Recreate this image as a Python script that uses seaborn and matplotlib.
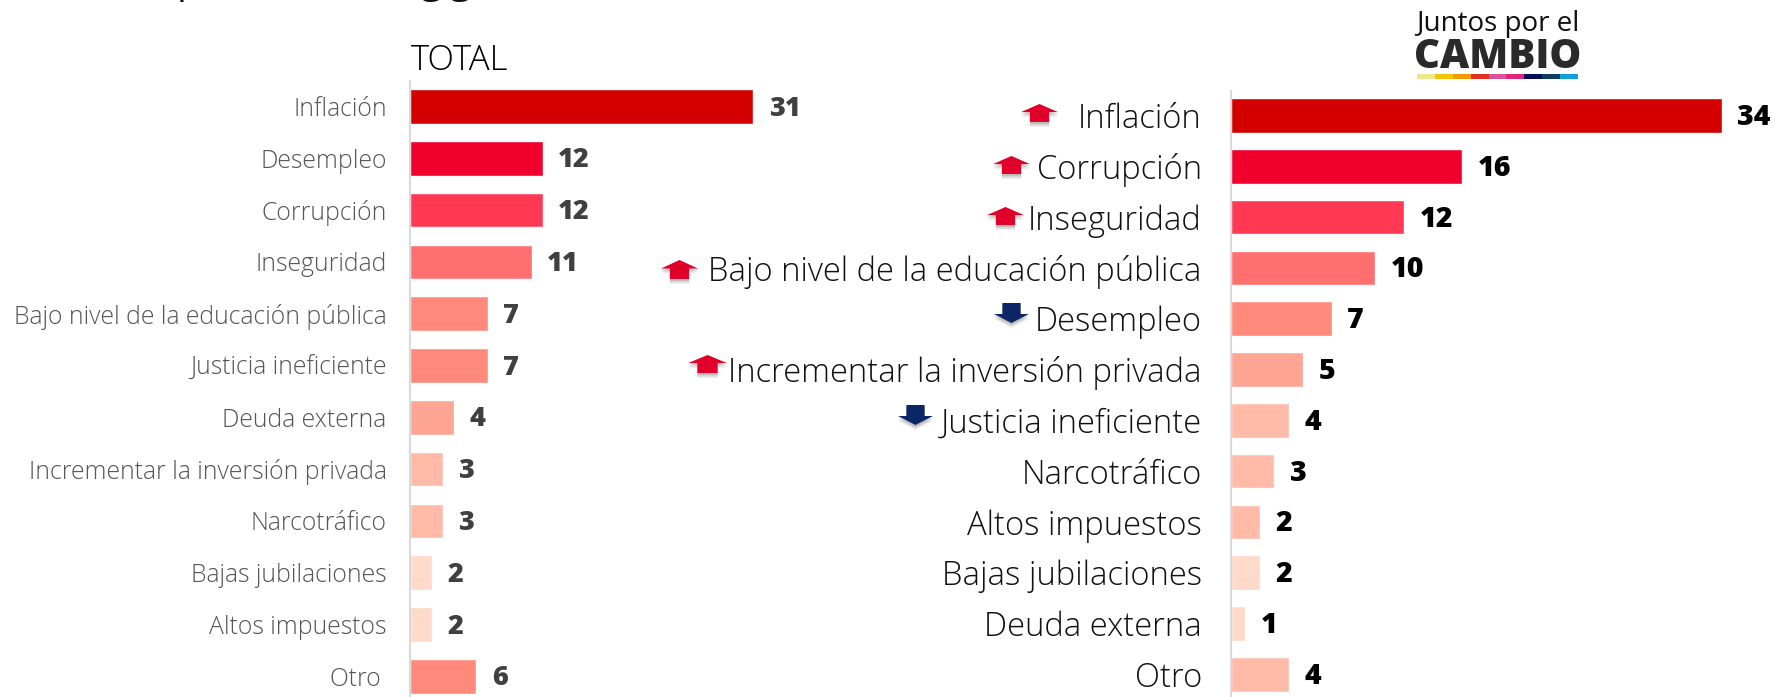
import pandas as pd
import matplotlib.pyplot as plt
from matplotlib.patches import Polygon, Rectangle
import seaborn as sns

total_cats = ["Inflación", "Desempleo", "Corrupción", "Inseguridad",
              "Bajo nivel de la educación pública", "Justicia ineficiente",
              "Deuda externa", "Incrementar la inversión privada",
              "Narcotráfico", "Bajas jubilaciones", "Altos impuestos", "Otro "]
total_vals = [31, 12, 12, 11, 7, 7, 4, 3, 3, 2, 2, 6]
total_cols = ["#d40000", "#f2002d", "#ff3853", "#ff6f6f", "#ff8a7c", "#ff8a7c",
              "#ffa593", "#ffbba8", "#ffbba8", "#ffd9c9", "#ffd9c9", "#ff8a7c"]

jxc_cats = ["Inflación", "Corrupción", "Inseguridad",
            "Bajo nivel de la educación pública", "Desempleo",
            "Incrementar la inversión privada", "Justicia ineficiente",
            "Narcotráfico", "Altos impuestos", "Bajas jubilaciones",
            "Deuda externa", "Otro"]
jxc_vals = [34, 16, 12, 10, 7, 5, 4, 3, 2, 2, 1, 4]
jxc_cols = ["#d40000", "#f2002d", "#ff3853", "#ff6f6f", "#ff8a7c", "#ffa593",
            "#ffbba8", "#ffbba8", "#ffbba8", "#ffd9c9", "#ffd9c9", "#ffbba8"]

W, H = 1775, 697

sns.set_theme(style="white")
plt.rcParams["font.family"] = ["Open Sans", "DejaVu Sans"]

fig = plt.figure(figsize=(W / 100, H / 100), dpi=100)


def panel(cats, vals, cols, x0, per_unit, top, first, pitch, label_size, label_col, pad, num_size, num_col):
    # axes placed in pixels, runs to the bottom edge of the image
    width = W - x0 if x0 > 1000 else 400
    ax = fig.add_axes([x0 / W, 0, width / W, (H - top) / H])
    df = pd.DataFrame({"cat": cats, "val": vals})
    sns.barplot(data=df, x="val", y="cat", hue="cat", palette=cols, order=cats,
                width=34.5 / pitch, saturation=1, legend=False, ax=ax)
    ax.set_xlim(0, width / per_unit)
    ax.set_ylim((H - first) / pitch, -(first - top) / pitch)
    ax.set_xlabel("")
    ax.set_ylabel("")
    ax.set_xticks([])
    ax.tick_params(axis="y", length=0, pad=pad, labelsize=label_size, labelcolor=label_col)
    for t in ax.get_yticklabels():
        t.set_fontweight(300)
    sns.despine(ax=ax, left=False, bottom=True)
    ax.spines["left"].set_color("#d9d9d9")
    ax.spines["left"].set_linewidth(1.5)
    for c in ax.containers:
        for t in ax.bar_label(c, padding=11, fontsize=num_size, fontweight=800, color=num_col):
            t.xyann = (11, -1.5)
    return ax


panel(total_cats, total_vals, total_cols, 410, 11.08, 81, 106.5, 51.8, 17.8, "#555555", 16.8, 19.5, "#404040")
panel(jxc_cats, jxc_vals, jxc_cols, 1231, 14.44, 91, 115.5, 50.8, 23.6, "#111111", 21, 20.5, "#000000")

fig.text(411 / W, 1 - 70.5 / H, "TOTAL", fontsize=25, fontweight=300, color="#000000", ha="left", va="baseline")

# bottom of the cropped heading, only the descenders stay in the image
for x, s in [(189, "p"), (431, "g"), (460, "g")]:
    fig.text(x / W, 1 + 7 / H, s, fontsize=28, color="#111111", ha="center", va="baseline")


def px_poly(pts, **kw):
    fig.add_artist(Polygon([(x / W, 1 - y / H) for x, y in pts], closed=True,
                           transform=fig.transFigure, **kw))


def arrow(x0, x1, y0, y1, up):
    # block arrow with a soft shadow below it, pixel box of the glyph
    xm = (x0 + x1) / 2
    sw = (x1 - x0) * 0.26
    if up:
        ym = y0 + (y1 - y0) * 0.45
        pts = [(xm, y0), (x1, ym), (xm + sw, ym), (xm + sw, y1), (xm - sw, y1), (xm - sw, ym), (x0, ym)]
        col = "#e0002a"
    else:
        ym = y0 + (y1 - y0) * 0.55
        pts = [(xm, y1), (x1, ym), (xm + sw, ym), (xm + sw, y0), (xm - sw, y0), (xm - sw, ym), (x0, ym)]
        col = "#0b2566"
    for off, alpha in [(5, 0.12), (3.5, 0.2), (2, 0.25)]:
        px_poly([(x, y + off) for x, y in pts], color="#777777", alpha=alpha, lw=0)
    px_poly(pts, color=col, lw=0)


arrow_boxes = [(1021, 1058, 104, 122, True), (993, 1030, 156, 174, True),
               (987, 1024, 207, 225, True), (661, 698, 260, 279, True),
               (994, 1029, 303, 323, False), (688, 727, 355, 373, True),
               (898, 933, 405, 425, False)]
for box in arrow_boxes:
    arrow(*box)

# logo
fig.text(1497.5 / W, 1 - 31 / H, "Juntos por el", fontsize=20, color="#111111", ha="center", va="baseline")
fig.text(1497.5 / W, 1 - 68 / H, "CAMBIO", fontsize=29, fontweight=800, color="#2a2a2a", ha="center", va="baseline")
logo_cols = ["#eee88c", "#f6c400", "#f59b00", "#e0301e", "#d6559c", "#e0257e", "#0a0a5a", "#0f3d60", "#10a0e0"]
step = (1578 - 1417) / len(logo_cols)
for i, c in enumerate(logo_cols):
    fig.add_artist(Rectangle(((1417 + i * step) / W, 1 - 79 / H), step / W, 5 / H,
                             transform=fig.transFigure, color=c, lw=0))

fig.savefig("out.png", dpi=100)
